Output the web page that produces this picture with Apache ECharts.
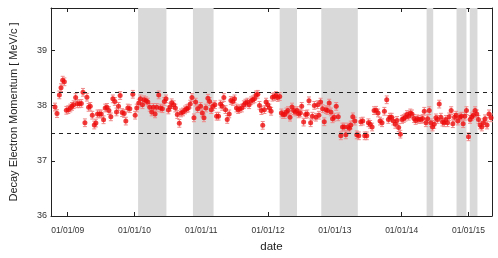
<!DOCTYPE html>
<html><head><meta charset="utf-8">
<script src="https://cdn.jsdelivr.net/npm/echarts@6/dist/echarts.min.js"></script>
<style>html,body{margin:0;padding:0;background:#fff}#c{width:498px;height:258px}</style>
</head><body><div id="c"></div>
<script>
// decimal-year positions of measurements
const years = [
2008.810,2008.840,2008.875,2008.900,2008.925,2008.950,2008.980,2009.009,2009.039,2009.064,
2009.089,2009.119,2009.144,2009.174,2009.204,2009.229,2009.258,2009.288,2009.313,2009.338,
2009.368,2009.398,2009.422,2009.447,2009.477,2009.502,2009.537,2009.562,2009.587,2009.617,
2009.646,2009.676,2009.706,2009.731,2009.761,2009.785,2009.815,2009.845,2009.870,2009.900,
2009.930,2009.975,2010.010,2010.034,2010.064,2010.089,2010.119,2010.144,2010.174,2010.199,
2010.228,2010.258,2010.283,2010.308,2010.333,2010.363,2010.388,2010.417,2010.447,2010.472,
2010.507,2010.532,2010.557,2010.587,2010.612,2010.641,2010.671,2010.696,2010.726,2010.756,
2010.781,2010.805,2010.835,2010.860,2010.890,2010.915,2010.945,2010.990,2011.015,2011.040,
2011.069,2011.099,2011.124,2011.149,2011.174,2011.204,2011.229,2011.258,2011.288,2011.313,
2011.338,2011.363,2011.388,2011.418,2011.443,2011.473,2011.497,2011.527,2011.552,2011.577,
2011.607,2011.637,2011.662,2011.691,2011.716,2011.746,2011.771,2011.796,2011.821,2011.846,
2011.871,2011.900,2011.920,2011.945,2011.970,2011.995,2012.020,2012.045,2012.065,2012.094,
2012.119,2012.144,2012.174,2012.199,2012.224,2012.249,2012.274,2012.298,2012.328,2012.358,
2012.383,2012.408,2012.433,2012.458,2012.483,2012.503,2012.532,2012.562,2012.587,2012.612,
2012.637,2012.662,2012.692,2012.716,2012.741,2012.761,2012.786,2012.816,2012.841,2012.866,
2012.890,2012.915,2012.940,2012.965,2012.990,2013.020,2013.050,
2013.089,2013.114,2013.139,2013.164,2013.193,2013.218,2013.238,2013.268,2013.298,2013.328,
2013.358,2013.388,2013.417,2013.447,2013.477,2013.502,2013.527,2013.557,2013.587,2013.616,
2013.646,2013.676,2013.706,2013.741,2013.776,2013.801,2013.825,2013.850,2013.875,2013.905,
2013.930,2013.955,2013.980,2014.005,2014.030,2014.055,2014.079,2014.104,2014.129,2014.154,
2014.184,2014.209,2014.234,2014.258,2014.288,2014.313,2014.338,2014.363,2014.388,2014.413,
2014.437,2014.462,2014.487,2014.512,2014.537,2014.562,2014.587,2014.611,2014.636,2014.661,
2014.686,2014.711,2014.741,2014.766,2014.791,2014.815,2014.840,2014.870,2014.895,2014.920,
2014.945,2014.970,2015.000,2015.024,2015.049,2015.074,2015.099,2015.124,2015.149,2015.174,
2015.199,2015.223,2015.248,2015.278,2015.308,2015.338
];
// momentum values [MeV/c]
const values = [
37.975,37.856,38.195,38.326,38.462,38.432,37.916,37.928,37.957,37.987,
38.017,38.147,38.034,38.034,38.040,38.242,37.690,38.153,37.969,37.987,
37.827,37.649,37.684,37.851,37.851,37.851,37.744,37.957,37.969,37.910,
37.797,38.123,38.076,37.886,37.987,38.183,37.874,37.856,37.720,37.957,
37.945,38.206,37.827,37.957,38.046,38.123,38.017,38.106,38.088,38.064,
37.969,37.886,37.969,37.851,37.969,38.195,37.957,37.945,38.076,38.123,
37.922,37.975,38.052,38.017,37.957,37.839,37.679,37.868,37.886,37.922,
37.945,37.957,38.028,38.147,37.779,38.064,37.945,37.987,37.868,37.779,
37.957,38.135,38.076,37.928,37.987,38.017,37.809,37.809,38.028,37.987,
38.147,37.928,37.750,37.851,38.094,38.076,38.123,37.957,37.928,37.945,
37.957,38.017,38.046,38.064,38.017,38.088,38.106,38.123,38.195,38.206,
38.005,37.910,37.643,37.928,38.064,38.017,37.957,37.898,38.153,38.165,
38.183,38.147,38.165,37.868,37.839,37.839,37.886,37.910,37.791,37.975,
37.910,37.886,37.910,37.851,37.868,37.987,37.702,37.839,37.851,38.088,
37.690,37.809,38.005,37.791,38.017,37.827,38.064,37.945,37.708,37.928,
37.910,38.046,37.886,37.762,37.791,37.987,37.797,
37.453,37.613,37.613,37.471,37.613,37.590,37.649,37.797,37.720,37.471,
37.453,37.708,37.720,37.453,37.453,37.690,37.661,37.613,37.910,37.916,
37.868,37.720,37.690,37.898,38.106,37.750,37.791,37.791,37.720,37.661,
37.732,37.602,37.483,37.750,37.767,37.791,37.839,37.809,37.868,37.851,
37.767,37.732,37.762,37.750,37.750,37.767,37.898,37.690,37.762,37.910,
37.690,37.613,37.661,37.779,37.750,38.028,37.791,37.702,37.690,37.750,
37.690,37.797,37.910,37.673,37.791,37.827,37.720,37.791,37.809,37.673,
37.809,37.910,37.435,37.750,37.797,37.827,37.910,37.851,37.750,37.649,
37.613,37.690,37.762,37.649,37.851,37.779
];
const errorHalf = 0.07;
// shaded periods (decimal years)
const shadeStart = [2010.054, 2010.875, 2012.173, 2012.796, 2014.373, 2014.821, 2015.019];
const shadeEnd   = [2010.478, 2011.184, 2012.433, 2013.343, 2014.472, 2014.970, 2015.134];
// reference band lines
const bandLines = [38.25, 37.5];
const xMin = 2008.75, xMax = 2015.352;
const yMin = 36, yMax = 39.77;
const yTicks = [36, 37, 38, 39];

const pts = years.map((x, i) => [x, values[i], errorHalf]);
const FONT = 'Liberation Sans';
const axisCol = '#222';

const chart = echarts.init(document.getElementById('c'), null, {renderer: 'canvas'});
const xFmt = v => {
  if (Math.abs(v - Math.round(v)) > 1e-6) return '';
  return '01/01/' + String(Math.round(v) % 100).padStart(2, '0');
};
const baseX = {
  type: 'value', min: xMin, max: xMax, splitNumber: 6,
  axisLine: {show: true, onZero: false, lineStyle: {color: axisCol, width: 1}},
  axisTick: {show: true, inside: true, length: 4, lineStyle: {color: axisCol}},
  splitLine: {show: false}
};
const baseY = {
  type: 'value', min: yMin, max: yMax, interval: 1,
  axisLine: {show: true, lineStyle: {color: axisCol, width: 1}},
  axisTick: {show: true, inside: true, length: 4, lineStyle: {color: axisCol}},
  splitLine: {show: false}
};
chart.setOption({
  animation: false,
  grid: {left: 50, right: 6, top: 8, bottom: 38, containLabel: false},
  xAxis: [
    Object.assign({}, baseX, {
      position: 'bottom',
      name: 'date', nameLocation: 'middle', nameGap: 25,
      nameTextStyle: {fontFamily: FONT, fontSize: 11.5, color: '#222'},
      axisLabel: {formatter: xFmt, fontFamily: FONT, fontSize: 8.5, color: '#333', margin: 10, showMinLabel: false, showMaxLabel: false}
    }),
    Object.assign({}, baseX, {position: 'top', axisLabel: {show: false}})
  ],
  yAxis: [
    Object.assign({}, baseY, {
      position: 'left',
      name: 'Decay Electron Momentum [ MeV/c ]', nameLocation: 'middle', nameGap: 32,
      nameTextStyle: {fontFamily: FONT, fontSize: 11, color: '#222'},
      axisLabel: {formatter: v => yTicks.includes(v) ? String(v) : '', fontFamily: FONT, fontSize: 9, color: '#333', margin: 4, showMaxLabel: false}
    }),
    Object.assign({}, baseY, {position: 'right', axisLabel: {show: false}})
  ],
  series: [
    {
      type: 'line', data: [], z: 1, silent: true,
      markArea: {
        silent: true,
        itemStyle: {color: '#d9d9d9'},
        data: shadeStart.map((s, i) => [{xAxis: s, yAxis: yMin}, {xAxis: shadeEnd[i], yAxis: yMax}])
      },
      markLine: {
        silent: true, symbol: 'none', label: {show: false},
        lineStyle: {color: '#222', type: [4, 4], width: 1},
        data: bandLines.map(v => ({yAxis: v}))
      }
    },
    {
      type: 'custom', z: 2, silent: true,
      data: pts,
      encode: {x: 0, y: 1},
      renderItem: (params, api) => {
        const x = api.value(0), y = api.value(1), e = api.value(2);
        const top = api.coord([x, y + e]);
        const bot = api.coord([x, y - e]);
        const st = {stroke: '#ef8a8a', lineWidth: 1};
        return {
          type: 'group',
          children: [
            {type: 'line', shape: {x1: top[0], y1: top[1], x2: bot[0], y2: bot[1]}, style: st},
            {type: 'line', shape: {x1: top[0] - 2, y1: top[1], x2: top[0] + 2, y2: top[1]}, style: st},
            {type: 'line', shape: {x1: bot[0] - 2, y1: bot[1], x2: bot[0] + 2, y2: bot[1]}, style: st}
          ]
        };
      }
    },
    {
      type: 'scatter', z: 3, silent: true,
      data: pts.map(p => [p[0], p[1]]),
      symbol: 'circle', symbolSize: 5,
      itemStyle: {color: '#ee0d0d'}
    }
  ]
});
</script></body></html>
